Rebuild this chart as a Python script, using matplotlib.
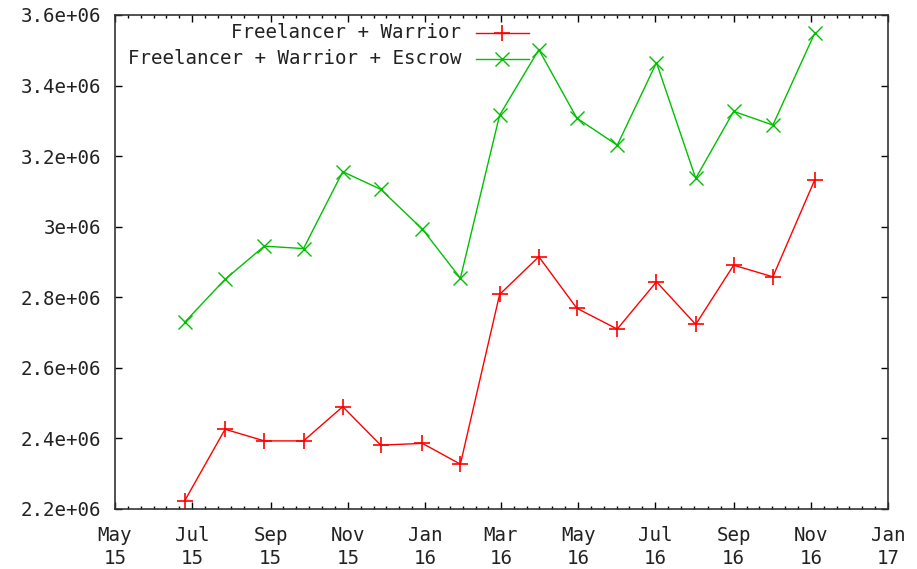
import matplotlib
matplotlib.use("Agg")
import matplotlib.pyplot as plt
import matplotlib.dates as mdates
from matplotlib.ticker import FuncFormatter, MultipleLocator
from matplotlib.lines import Line2D
import numpy as np
import datetime as dt

dates = ["2015-06-25", "2015-07-27", "2015-08-27", "2015-09-27", "2015-10-28",
         "2015-11-27", "2015-12-30", "2016-01-29", "2016-02-29", "2016-03-31",
         "2016-04-30", "2016-06-01", "2016-07-02", "2016-08-02", "2016-09-01",
         "2016-10-02", "2016-11-04"]
freelancer_warrior = [2.2227e6, 2.426e6, 2.393e6, 2.393e6, 2.490e6, 2.381e6,
                      2.386e6, 2.327e6, 2.808e6, 2.915e6, 2.769e6, 2.710e6,
                      2.844e6, 2.723e6, 2.891e6, 2.858e6, 3.132e6]
freelancer_warrior_escrow = [2.729e6, 2.851e6, 2.945e6, 2.938e6, 3.156e6, 3.106e6,
                             2.993e6, 2.854e6, 3.316e6, 3.502e6, 3.308e6, 3.231e6,
                             3.465e6, 3.137e6, 3.327e6, 3.288e6, 3.548e6]
series_labels = ["Freelancer + Warrior", "Freelancer + Warrior + Escrow"]

x = [dt.datetime.strptime(d, "%Y-%m-%d") for d in dates]

FONT = "DejaVu Sans Mono"
FS = 13.8
plt.rcParams['font.family'] = [FONT]

fig = plt.figure(figsize=(9.17, 5.69), dpi=100)
ax = fig.add_axes([115/917, 1-509/569, 773/917, 494/569])

RED = "#ff0000"
GREEN = "#00c000"
ax.plot(x, freelancer_warrior, color=RED, lw=1, marker='+', ms=11, mew=1.2, clip_on=False)
ax.plot(x, freelancer_warrior_escrow, color=GREEN, lw=1, marker='x', ms=10, mew=1.0, clip_on=False)

ax.set_xlim(dt.datetime(2015, 5, 1), dt.datetime(2017, 1, 1))
ax.set_ylim(2.2e6, 3.6e6)

ax.xaxis.set_major_locator(mdates.MonthLocator(bymonth=[1, 3, 5, 7, 9, 11]))
ax.xaxis.set_major_formatter(mdates.DateFormatter("%b\n%y"))

# minor ticks: 5 between each major (6 subdivisions)
minor = []
majors = [dt.datetime(2015 + (5 + 2*i - 1)//12, (5 + 2*i - 1) % 12 + 1, 1) for i in range(11)]
for a, b in zip(majors[:-1], majors[1:]):
    for k in range(1, 6):
        minor.append(mdates.date2num(a) + (mdates.date2num(b) - mdates.date2num(a)) * k / 6)
ax.xaxis.set_minor_locator(matplotlib.ticker.FixedLocator(minor))

ax.yaxis.set_major_locator(MultipleLocator(0.2e6))
ax.yaxis.set_major_formatter(FuncFormatter(lambda v, p: "%g" % v))

ax.tick_params(which='both', direction='in', top=True, right=True, colors='black',
               labelsize=FS)
ax.tick_params(which='major', length=5, width=1)
ax.tick_params(which='minor', length=2.2, width=1)
ax.tick_params(axis='x', which='major', pad=12)
ax.tick_params(axis='y', which='major', pad=10)
for lab in ax.get_xticklabels():
    lab.set_linespacing(1.32)
for lab in ax.get_yticklabels() + ax.get_xticklabels():
    lab.set_color('#222222')
for s in ax.spines.values():
    s.set_linewidth(1.2)
    s.set_color('#333333')

# legend (gnuplot style, right-aligned text, sample to the right)
def ax_coords(px, py):
    return ((px - 115) / 773, (509 - py) / 494)

for (py, lab, col, mk, ms, mew) in [(33, series_labels[0], RED, '+', 11, 1.2),
                                    (59, series_labels[1], GREEN, 'x', 10, 1.0)]:
    tx, ty = ax_coords(461, py)
    ax.text(tx, ty, lab, transform=ax.transAxes, ha='right', va='center', fontsize=FS,
            color='#222222')
    x0, y0 = ax_coords(476, py)
    x1, _ = ax_coords(529, py)
    xm, _ = ax_coords(502, py)
    ax.add_line(Line2D([x0, x1], [y0, y0], color=col, lw=1, transform=ax.transAxes))
    ax.add_line(Line2D([xm], [y0], color=col, marker=mk, ms=ms, mew=mew, lw=0,
                       transform=ax.transAxes))

fig.savefig("out.png", dpi=100, facecolor='white')
